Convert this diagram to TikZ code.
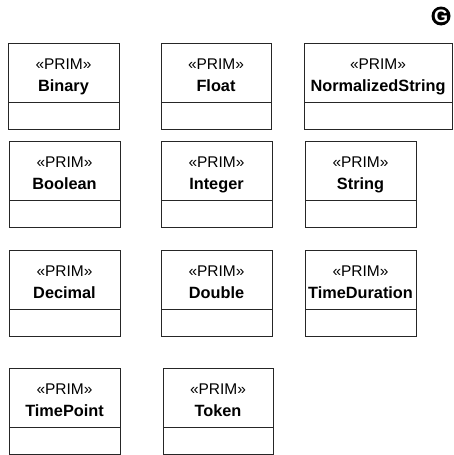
\documentclass[tikz,border=0pt]{standalone}
\usepackage{fontspec}
\setmainfont{Liberation Sans}
% one UML primitive class: id, left, top, width, name
\newcommand\primclass[5]{%
  \node[classbox, minimum width=#4pt] (#1) at (#2,#3) {};
  \node[stereo] (#1-st) at (#2+#4/2, #3+26) {«PRIM»};
  \node[cname] (#1-nm) at (#2+#4/2, #3+48) {#5};
  \draw[divider] ([yshift=27pt]#1.south west) -- ([yshift=27pt]#1.south east);
}
\begin{document}
\begin{tikzpicture}[x=1pt, y=-1pt,
  classbox/.style={draw=black!85, line width=0.9pt, anchor=north west,
    minimum height=86pt, inner sep=0pt, outer sep=0pt},
  divider/.style={draw=black!85, line width=0.9pt},
  stereo/.style={anchor=base, font=\fontsize{15.5}{16}\selectfont, inner sep=0pt},
  cname/.style={anchor=base, font=\bfseries\fontsize{16.3}{17}\selectfont, inner sep=0pt},
  badge/.style={circle, fill=black, text=white, inner sep=0pt,
    minimum size=19pt, font=\bfseries\fontsize{18}{18}\selectfont}]
\useasboundingbox (0,0) rectangle (453,455);

\node[badge] (g) at (441,16) {G};

\primclass{binary}{8}{43}{111}{Binary}
\primclass{float}{161}{43}{110}{Float}
\primclass{normstr}{304}{43}{148}{NormalizedString}

\primclass{boolean}{9}{141}{111}{Boolean}
\primclass{integer}{161}{141}{111}{Integer}
\primclass{string}{305}{141}{111}{String}

\primclass{decimal}{9}{250}{111}{Decimal}
\primclass{double}{161}{250}{111}{Double}
\primclass{timedur}{305}{250}{111}{TimeDuration}

\primclass{timepoint}{9}{368}{111}{TimePoint}
\primclass{token}{163}{368}{110}{Token}
\end{tikzpicture}
\end{document}
